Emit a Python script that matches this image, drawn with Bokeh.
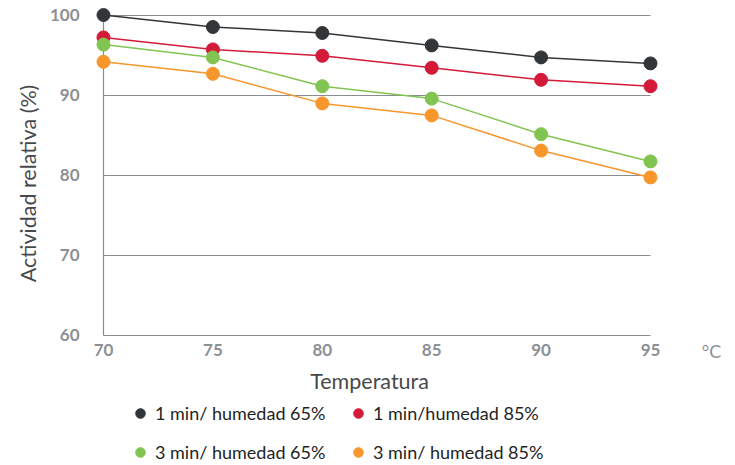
import math
from bokeh.plotting import figure
from bokeh.models import Range1d, FixedTicker, Legend, LegendItem, Label
from bokeh.embed import file_html
from bokeh.resources import INLINE

temps = [70, 75, 80, 85, 90, 95]
s1_65 = [100.0, 98.5, 97.75, 96.2, 94.7, 93.95]
s1_85 = [97.2, 95.7, 94.9, 93.4, 91.9, 91.1]
s3_65 = [96.3, 94.7, 91.1, 89.55, 85.1, 81.7]
s3_85 = [94.15, 92.65, 88.95, 87.45, 83.05, 79.7]
labels = ["1 min/ humedad 65%", "1 min/humedad 85%", "3 min/ humedad 65%", "3 min/ humedad 85%"]
colors = ["#333639", "#d31a38", "#82c451", "#f7962b"]
y_ticks = [60, 70, 80, 90, 100]
x_ticks = [70, 75, 80, 85, 90, 95]
x_title = "Temperatura"
y_title = "Actividad relativa (%)"
unit = "°C"

FONT = "Lato"
GRID = "#8a8d90"
TICK_COLOR = "#8d9094"
TITLE_COLOR = "#48494b"

p = figure(width=735, height=465, output_backend="svg", toolbar_location=None,
           x_range=Range1d(65.293, 98.885), y_range=Range1d(43.6875, 101.8125),
           min_border_left=0, min_border_right=0, min_border_top=0, min_border_bottom=0)
p.outline_line_color = None
p.background_fill_color = "white"
p.border_fill_color = "white"

# grid
p.ygrid.ticker = FixedTicker(ticks=y_ticks)
p.ygrid.grid_line_color = GRID
p.ygrid.grid_line_width = 1.2
p.ygrid.cross_bounds = (70, 95)
p.xgrid.ticker = FixedTicker(ticks=[70])
p.xgrid.grid_line_color = GRID
p.xgrid.grid_line_width = 1.2
p.xgrid.cross_bounds = (60, 100)

# axes drawn at fixed positions inside the canvas
for ax in (p.xaxis[0], p.yaxis[0]):
    ax.axis_line_color = None
    ax.major_tick_line_color = None
    ax.minor_tick_line_color = None
    ax.major_tick_out = 0
    ax.major_tick_in = 0
    ax.minor_tick_out = 0
    ax.major_label_text_font = FONT
    ax.major_label_text_font_size = "17px"
    ax.major_label_text_font_style = "bold"
    ax.major_label_text_color = TICK_COLOR

p.xaxis.ticker = FixedTicker(ticks=x_ticks)
p.yaxis.ticker = FixedTicker(ticks=y_ticks)
p.xaxis.fixed_location = 60
p.yaxis.fixed_location = 70
p.xaxis.major_label_standoff = 9
p.yaxis.major_label_standoff = 24

for ys, c in zip([s1_65, s1_85, s3_65, s3_85], colors):
    p.line(temps, ys, line_color=c, line_width=1.5)

items = []
for ys, c, lab in zip([s1_65, s1_85, s3_65, s3_85], colors, labels):
    r = p.scatter(temps, ys, size=13, fill_color=c, line_color=c)
    items.append(LegendItem(label=lab, renderers=[r]))

title_kw = dict(text_font=FONT, text_font_size="21.5px", text_color=TITLE_COLOR,
                text_align="center", text_baseline="middle")
p.add_layout(Label(x=82.16, y=54.31, text=x_title, **title_kw))
p.add_layout(Label(x=66.57, y=78.94, text=y_title, angle=math.pi / 2, **title_kw))
p.add_layout(Label(x=97.79, y=58.06, text=unit, text_font=FONT, text_font_size="18px",
                   text_color=TICK_COLOR, text_align="center", text_baseline="middle"))

legend = Legend(items=items, ncols=2, orientation="horizontal", location=(128, 1),
                glyph_width=24, glyph_height=24, label_standoff=3, spacing=15,
                label_width=176, padding=0, margin=0, border_line_color=None,
                background_fill_alpha=0,
                label_text_font=FONT, label_text_font_size="18px", label_text_color="#1f1f1f")
p.add_layout(legend, "center")

open("out.html", "w").write(file_html(p, INLINE))
